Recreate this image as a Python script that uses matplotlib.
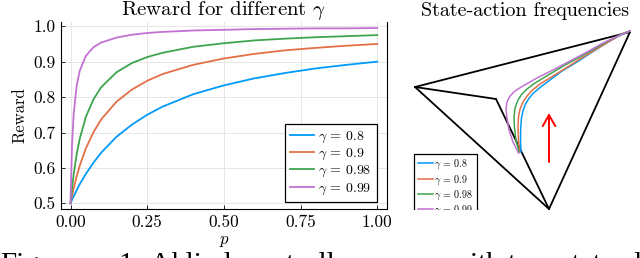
import matplotlib
matplotlib.use("Agg")
import matplotlib.pyplot as plt
from matplotlib.patches import Rectangle

plt.rcParams['font.family'] = 'serif'
plt.rcParams['font.serif'] = ['cmr10']
plt.rcParams['mathtext.fontset'] = 'cm'
plt.rcParams['axes.formatter.use_mathtext'] = True

# ---------------- data ----------------
p = [0, 0.005, 0.01, 0.02, 0.03, 0.05, 0.075, 0.1, 0.15, 0.2, 0.25,
     0.3, 0.4, 0.5, 0.6, 0.7, 0.8, 0.9, 1.0]
reward_08 = [0.5, 0.510, 0.519, 0.537, 0.554, 0.583, 0.615, 0.643, 0.688, 0.722, 0.750,
             0.773, 0.808, 0.833, 0.853, 0.868, 0.881, 0.891, 0.900]
reward_09 = [0.5, 0.522, 0.541, 0.576, 0.606, 0.655, 0.701, 0.737, 0.787, 0.821, 0.846,
             0.865, 0.891, 0.909, 0.922, 0.932, 0.939, 0.945, 0.950]
reward_098 = [0.5, 0.543, 0.580, 0.638, 0.682, 0.744, 0.794, 0.828, 0.870, 0.896, 0.913,
              0.925, 0.942, 0.952, 0.960, 0.965, 0.969, 0.972, 0.975]
reward_099 = [0.5, 0.665, 0.749, 0.832, 0.874, 0.916, 0.941, 0.954, 0.968, 0.976, 0.981,
              0.984, 0.988, 0.990, 0.992, 0.993, 0.994, 0.994, 0.995]
labels = [r'$\gamma$ = 0.8', r'$\gamma$ = 0.9', r'$\gamma$ = 0.98', r'$\gamma$ = 0.99']
colors = ['#009AFA', '#E36F47', '#3EA44E', '#C371D2']
xticks = [0.0, 0.25, 0.5, 0.75, 1.0]
xticklabels = ['0.00', '0.25', '0.50', '0.75', '1.00']
yticks = [0.5, 0.6, 0.7, 0.8, 0.9, 1.0]
yticklabels = ['0.5', '0.6', '0.7', '0.8', '0.9', '1.0']

# state-action polytope (projected coordinates)
vertex_x = [415, 630, 496, 549]   # A, B, C, D
vertex_y = [87, 32, 99, 209]
edges = [(0, 1), (0, 2), (0, 3), (2, 3), (1, 3)]
traj_08_x = [521, 520.5, 520.7, 521.5, 523, 525, 528.5, 533, 540, 550, 562, 577, 590, 603, 615, 627, 630]
traj_08_y = [152, 140, 128, 118, 111, 105, 99, 93.5, 87.5, 80, 71, 62, 53.5, 45, 38, 32, 31]
traj_09_x = [519.5, 518.5, 518, 518.5, 520, 523, 527, 532, 540, 553, 566, 580, 595, 610, 622, 630]
traj_09_y = [152, 140, 128, 117, 109, 102, 96, 90.5, 84, 76, 68, 59, 50, 41, 34, 31]
traj_098_x = [519, 516, 514.5, 514, 515, 518, 522, 527, 535, 550, 565, 580, 595, 610, 622, 630]
traj_098_y = [152, 140, 128, 117, 108, 100, 94, 89, 83, 74, 65, 57, 48.5, 40, 34, 31]
traj_099_x = [518.5, 513, 509, 507, 506, 507, 510, 515, 522, 537, 553, 570, 587, 603, 618, 630]
traj_099_y = [153, 142, 130, 118, 109, 102, 96, 91, 86.5, 78, 70, 61, 52, 43, 36, 31]
arrow_x = 549
arrow_from_y = 162
arrow_to_y = 113

caption_words = ['Figure', '1:', 'A', 'blind', 'controller', 'with', 'two-state', 'policies']
caption_x = [0, 118, 150, 172, 245, 450, 508, 606]

# ---------------- figure ----------------
fig = plt.figure(figsize=(6.4, 2.58), dpi=100)
W, H = 640.0, 258.0

ax = fig.add_axes([61 / W, 1 - 209 / H, 326 / W, 187 / H])
series = [reward_08, reward_09, reward_098, reward_099]
for vals, c, lab in zip(series, colors, labels):
    ax.plot(p, vals, color=c, lw=1.3, label=lab)
ax.set_xlim(-0.031, 1.032)
ax.set_ylim(0.484, 1.012)
ax.set_xticks(xticks)
ax.set_xticklabels(xticklabels)
ax.set_yticks(yticks)
ax.set_yticklabels(yticklabels)
ax.tick_params(direction='in', length=3, width=0.6, labelsize=12.5, pad=4)
ax.grid(True, color='#e6e6e6', lw=0.7)
ax.spines['top'].set_visible(False)
for s in ['left', 'bottom', 'right']:
    ax.spines[s].set_linewidth(0.8)
ax.set_title(r'Reward for different $\gamma$', fontsize=15, pad=3)
ax.set_xlabel(r'$p$', fontsize=12, labelpad=3)
ax.set_ylabel('Reward', fontsize=12, labelpad=4)
leg = ax.legend(loc='lower right', bbox_to_anchor=(0.969, 0.037), fontsize=10,
                handlelength=1.7, handletextpad=0.3, labelspacing=0.15,
                borderpad=0.4, borderaxespad=0, fancybox=False, framealpha=1)
leg.get_frame().set_edgecolor('black')
leg.get_frame().set_linewidth(0.9)

# right panel
ax2 = fig.add_axes([395 / W, 0, 245 / W, 238 / H])
ax2.set_xlim(395, 640)
ax2.set_ylim(258, 20)
ax2.axis('off')
for i, j in edges:
    ax2.plot([vertex_x[i], vertex_x[j]], [vertex_y[i], vertex_y[j]],
             color='black', lw=1.3, solid_capstyle='round')
handles = []
for tx, ty, c, lab in zip([traj_08_x, traj_09_x, traj_098_x, traj_099_x],
                          [traj_08_y, traj_09_y, traj_098_y, traj_099_y], colors, labels):
    h, = ax2.plot(tx, ty, color=c, lw=1.1, label=lab, solid_joinstyle='round')
    handles.append(h)
ax2.annotate('', xy=(arrow_x, arrow_to_y), xytext=(arrow_x, arrow_from_y),
             arrowprops=dict(arrowstyle='->,head_length=0.8,head_width=0.45',
                             color='red', lw=1.4, shrinkA=0, shrinkB=0))
fig.text(525 / W, 1 - 11 / H, 'State-action frequencies', fontsize=14.5,
         ha='center', va='center')
leg2 = fig.legend(handles=handles, loc='upper left', bbox_to_anchor=(414 / W, 1 - 154 / H),
                  fontsize=7.2, handlelength=1.5, handletextpad=0.2, labelspacing=0.15,
                  borderpad=0.35, borderaxespad=0, fancybox=False, framealpha=1)
leg2.get_frame().set_edgecolor('black')
leg2.get_frame().set_linewidth(0.9)
fig.add_artist(Rectangle((405 / W, 0), 90 / W, 1 - 209.5 / H, transform=fig.transFigure,
                         facecolor='white', edgecolor='none', zorder=10))

# caption (cut off at bottom)
for word, x in zip(caption_words, caption_x):
    fig.text(x / W, 1 - 272 / H, word, fontsize=21, family='Liberation Serif',
             ha='left', va='baseline', zorder=11)

fig.savefig('out.png', dpi=100)
